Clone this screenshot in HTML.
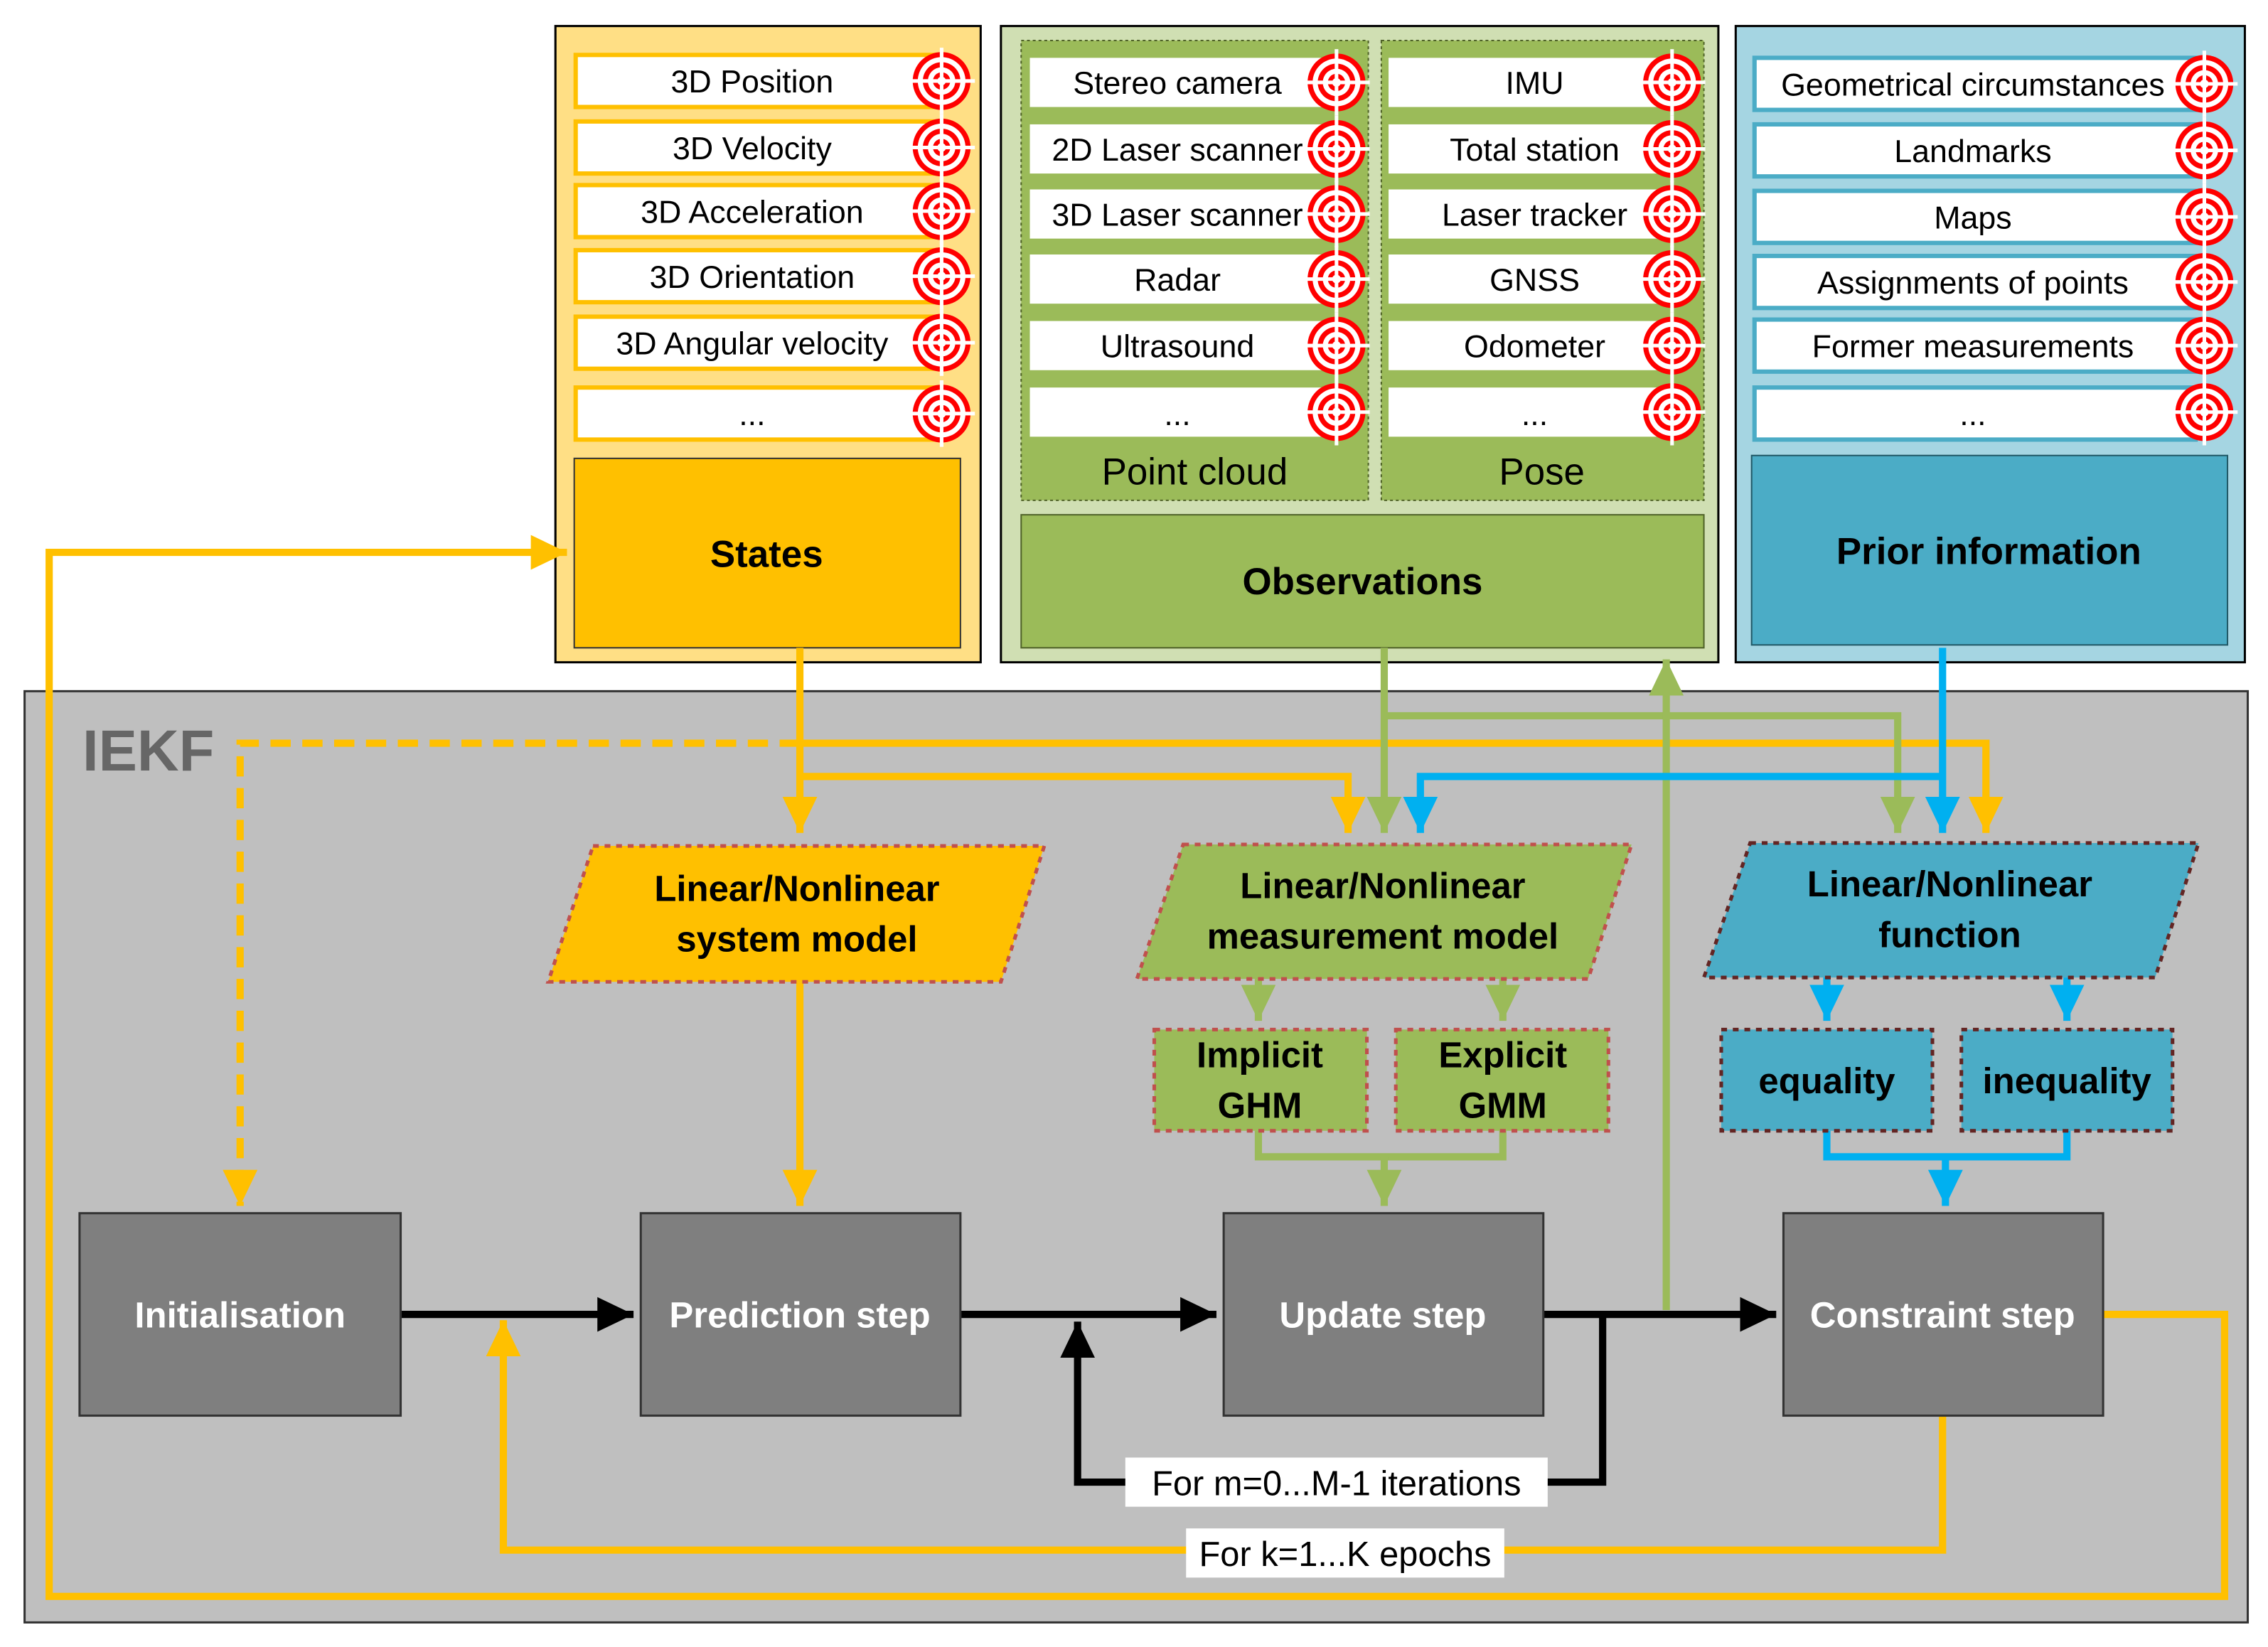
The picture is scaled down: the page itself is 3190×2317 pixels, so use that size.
<!DOCTYPE html>
<html><head><meta charset="utf-8"><style>html,body{margin:0;padding:0;background:#fff}svg{display:block}</style></head>
<body>
<svg width="3190" height="2317" viewBox="0 0 1568 1139" preserveAspectRatio="none" xmlns="http://www.w3.org/2000/svg" font-family="Liberation Sans, sans-serif">
<defs>
<g id="tg">
<circle r="20" fill="#f00"/><circle r="16.5" fill="#fff"/><circle r="13" fill="#f00"/><circle r="9.5" fill="#fff"/><circle r="6" fill="#f00"/><circle r="3" fill="#fff"/>
<path d="M0,-23V23M-23,0H23" stroke="#fff" stroke-width="2.5"/>
</g>
<marker id="ay" markerWidth="6" markerHeight="6" refX="5" refY="3" orient="auto" markerUnits="strokeWidth"><path d="M0,0.6L5,3L0,5.4Z" fill="#FFC000"/></marker>
<marker id="ag" markerWidth="6" markerHeight="6" refX="5" refY="3" orient="auto" markerUnits="strokeWidth"><path d="M0,0.6L5,3L0,5.4Z" fill="#9BBB59"/></marker>
<marker id="ab" markerWidth="6" markerHeight="6" refX="5" refY="3" orient="auto" markerUnits="strokeWidth"><path d="M0,0.6L5,3L0,5.4Z" fill="#00B0F0"/></marker>
<marker id="ak" markerWidth="6" markerHeight="6" refX="5" refY="3" orient="auto" markerUnits="strokeWidth"><path d="M0,0.6L5,3L0,5.4Z" fill="#000"/></marker>
</defs>

<rect x="17" y="478" width="1537" height="644" fill="#BFBFBF" stroke="#333" stroke-width="1.5"/>
<text x="57" y="533" font-size="40" font-weight="bold" fill="#666">IEKF</text>

<rect x="384" y="18" width="294" height="440" fill="#FFDF85" stroke="#000" stroke-width="1.5"/>
<g fill="#fff" stroke="#FFC000" stroke-width="3">
<rect x="398" y="38" width="250" height="36"/><rect x="398" y="84" width="250" height="36"/><rect x="398" y="128" width="250" height="36"/><rect x="398" y="173" width="250" height="36"/><rect x="398" y="219" width="250" height="36"/><rect x="398" y="268" width="250" height="36"/>
</g>
<g font-size="22" text-anchor="middle" fill="#000">
<text x="520" y="64">3D Position</text><text x="520" y="110">3D Velocity</text><text x="520" y="154">3D Acceleration</text><text x="520" y="199">3D Orientation</text><text x="520" y="245">3D Angular velocity</text><text x="520" y="294">...</text>
</g>
<use href="#tg" x="651" y="56"/><use href="#tg" x="651" y="102"/><use href="#tg" x="651" y="146"/><use href="#tg" x="651" y="191"/><use href="#tg" x="651" y="237"/><use href="#tg" x="651" y="286"/>
<rect x="397" y="317" width="267" height="131" fill="#FFC000" stroke="#333" stroke-width="1"/>
<text x="530" y="392" font-size="26" font-weight="bold" text-anchor="middle">States</text>

<rect x="692" y="18" width="496" height="440" fill="#D0DFB3" stroke="#000" stroke-width="1.5"/>
<rect x="706" y="28" width="240" height="318" fill="#9BBB59" stroke="#4f6228" stroke-dasharray="2,2"/>
<rect x="955" y="28" width="223" height="318" fill="#9BBB59" stroke="#4f6228" stroke-dasharray="2,2"/>
<g fill="#fff">
<rect x="712" y="40" width="210" height="34"/><rect x="712" y="86" width="210" height="34"/><rect x="712" y="131" width="210" height="34"/><rect x="712" y="176" width="210" height="34"/><rect x="712" y="222" width="210" height="34"/><rect x="712" y="268" width="210" height="34"/>
<rect x="960" y="40" width="192" height="34"/><rect x="960" y="86" width="192" height="34"/><rect x="960" y="131" width="192" height="34"/><rect x="960" y="176" width="192" height="34"/><rect x="960" y="222" width="192" height="34"/><rect x="960" y="268" width="192" height="34"/>
</g>
<g font-size="22" text-anchor="middle" fill="#000">
<text x="814" y="65">Stereo camera</text><text x="814" y="111">2D Laser scanner</text><text x="814" y="156">3D Laser scanner</text><text x="814" y="201">Radar</text><text x="814" y="247">Ultrasound</text><text x="814" y="294">...</text>
<text x="1061" y="65">IMU</text><text x="1061" y="111">Total station</text><text x="1061" y="156">Laser tracker</text><text x="1061" y="201">GNSS</text><text x="1061" y="247">Odometer</text><text x="1061" y="294">...</text>
<text x="826" y="335" font-size="26">Point cloud</text><text x="1066" y="335" font-size="26">Pose</text>
</g>
<use href="#tg" x="924" y="57"/><use href="#tg" x="924" y="103"/><use href="#tg" x="924" y="148"/><use href="#tg" x="924" y="193"/><use href="#tg" x="924" y="239"/><use href="#tg" x="924" y="285"/>
<use href="#tg" x="1156" y="57"/><use href="#tg" x="1156" y="103"/><use href="#tg" x="1156" y="148"/><use href="#tg" x="1156" y="193"/><use href="#tg" x="1156" y="239"/><use href="#tg" x="1156" y="285"/>
<rect x="706" y="356" width="472" height="92" fill="#9BBB59" stroke="#4f6228" stroke-width="1"/>
<text x="942" y="411" font-size="26" font-weight="bold" text-anchor="middle">Observations</text>

<rect x="1200" y="18" width="352" height="440" fill="#A5D5E2" stroke="#000" stroke-width="1.5"/>
<g fill="#fff" stroke="#4BACC6" stroke-width="3">
<rect x="1213" y="40" width="305" height="36"/><rect x="1213" y="86" width="305" height="36"/><rect x="1213" y="132" width="305" height="36"/><rect x="1213" y="177" width="305" height="36"/><rect x="1213" y="221" width="305" height="36"/><rect x="1213" y="268" width="305" height="36"/>
</g>
<g font-size="22" text-anchor="middle" fill="#000">
<text x="1364" y="66">Geometrical circumstances</text><text x="1364" y="112">Landmarks</text><text x="1364" y="158">Maps</text><text x="1364" y="203">Assignments of points</text><text x="1364" y="247">Former measurements</text><text x="1364" y="294">...</text>
</g>
<use href="#tg" x="1524" y="58"/><use href="#tg" x="1524" y="104"/><use href="#tg" x="1524" y="150"/><use href="#tg" x="1524" y="195"/><use href="#tg" x="1524" y="239"/><use href="#tg" x="1524" y="285"/>
<rect x="1211" y="315" width="329" height="131" fill="#4BACC6" stroke="#215967" stroke-width="1"/>
<text x="1375" y="390" font-size="26" font-weight="bold" text-anchor="middle">Prior information</text>

<g fill="none" stroke-width="5" stroke-linejoin="miter">
<path d="M553,448V576" stroke="#FFC000" marker-end="url(#ay)"/>
<path d="M553,514H166V834" stroke="#FFC000" stroke-dasharray="14,8" marker-end="url(#ay)"/>
<path d="M553,514H1373V576" stroke="#FFC000" marker-end="url(#ay)"/>
<path d="M553,537H932V576" stroke="#FFC000" marker-end="url(#ay)"/>
<path d="M553,679V834" stroke="#FFC000" marker-end="url(#ay)"/>
<path d="M1343,979V1072H348V913" stroke="#FFC000" marker-end="url(#ay)"/>
<path d="M1454,909H1538V1104H34V382H392" stroke="#FFC000" marker-end="url(#ay)"/>
<path d="M957,448V576" stroke="#9BBB59" marker-end="url(#ag)"/>
<path d="M957,495H1312V576" stroke="#9BBB59" marker-end="url(#ag)"/>
<path d="M1152,906V456" stroke="#9BBB59" marker-end="url(#ag)"/>
<path d="M870,677V706" stroke="#9BBB59" marker-end="url(#ag)"/>
<path d="M1039,677V706" stroke="#9BBB59" marker-end="url(#ag)"/>
<path d="M870,782V800H1039V782" stroke="#9BBB59"/>
<path d="M957,800V834" stroke="#9BBB59" marker-end="url(#ag)"/>
<path d="M1343,448V576" stroke="#00B0F0" marker-end="url(#ab)"/>
<path d="M1343,537H982V576" stroke="#00B0F0" marker-end="url(#ab)"/>
<path d="M1263,676V706" stroke="#00B0F0" marker-end="url(#ab)"/>
<path d="M1429,676V706" stroke="#00B0F0" marker-end="url(#ab)"/>
<path d="M1263,782V800H1429V782" stroke="#00B0F0"/>
<path d="M1345,800V834" stroke="#00B0F0" marker-end="url(#ab)"/>
<path d="M277,909H438" stroke="#000" marker-end="url(#ak)"/>
<path d="M664,909H841" stroke="#000" marker-end="url(#ak)"/>
<path d="M1067,909H1228" stroke="#000" marker-end="url(#ak)"/>
<path d="M1108,909V1025H745V914" stroke="#000" marker-end="url(#ak)"/>
</g>

<polygon points="410,585 722,585 692,679 379,679" fill="#FFC000" stroke="#C0504D" stroke-width="2.5" stroke-dasharray="4,4"/>
<polygon points="818,584 1128,584 1098,677 786,677" fill="#9BBB59" stroke="#C0504D" stroke-width="2.5" stroke-dasharray="4,4"/>
<polygon points="1210,583 1520,583 1490,676 1178,676" fill="#4BACC6" stroke="#632523" stroke-width="2.5" stroke-dasharray="4,4"/>
<g font-size="25" font-weight="bold" text-anchor="middle" fill="#000">
<text x="551" y="623">Linear/Nonlinear</text><text x="551" y="658">system model</text>
<text x="956" y="621">Linear/Nonlinear</text><text x="956" y="656">measurement model</text>
<text x="1348" y="620">Linear/Nonlinear</text><text x="1348" y="655">function</text>
</g>
<rect x="798" y="712" width="147" height="70" fill="#9BBB59" stroke="#C0504D" stroke-width="2.5" stroke-dasharray="4,4"/>
<rect x="965" y="712" width="147" height="70" fill="#9BBB59" stroke="#C0504D" stroke-width="2.5" stroke-dasharray="4,4"/>
<rect x="1190" y="712" width="146" height="70" fill="#4BACC6" stroke="#632523" stroke-width="2.5" stroke-dasharray="4,4"/>
<rect x="1356" y="712" width="146" height="70" fill="#4BACC6" stroke="#632523" stroke-width="2.5" stroke-dasharray="4,4"/>
<g font-size="25" font-weight="bold" text-anchor="middle" fill="#000">
<text x="871" y="738">Implicit</text><text x="871" y="773">GHM</text>
<text x="1039" y="738">Explicit</text><text x="1039" y="773">GMM</text>
<text x="1263" y="756">equality</text><text x="1429" y="756">inequality</text>
</g>

<g fill="#7F7F7F" stroke="#333" stroke-width="1.5">
<rect x="55" y="839" width="222" height="140"/><rect x="443" y="839" width="221" height="140"/><rect x="846" y="839" width="221" height="140"/><rect x="1233" y="839" width="221" height="140"/>
</g>
<g font-size="25" font-weight="bold" text-anchor="middle" fill="#fff">
<text x="166" y="918">Initialisation</text><text x="553" y="918">Prediction step</text><text x="956" y="918">Update step</text><text x="1343" y="918">Constraint step</text>
</g>

<rect x="778" y="1008" width="292" height="34" fill="#fff"/>
<text x="924" y="1034" font-size="24" text-anchor="middle">For m=0...M-1 iterations</text>
<rect x="820" y="1057" width="220" height="34" fill="#fff"/>
<text x="930" y="1083" font-size="24" text-anchor="middle">For k=1...K epochs</text>
</svg>
</body></html>
